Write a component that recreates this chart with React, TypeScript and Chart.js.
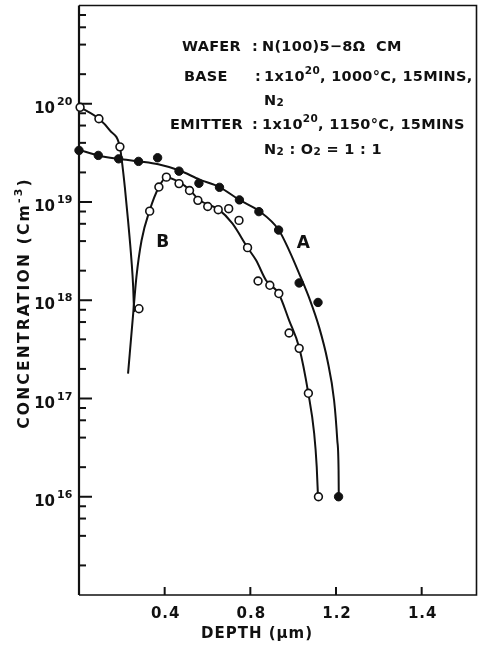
import React, { useEffect, useRef } from "react";
import { Chart, registerables } from "chart.js";

Chart.register(...registerables);

// ---- Data ----
// Series A (closed circles)
const aDepth = [0.0, 0.09, 0.185, 0.278, 0.367, 0.467, 0.56, 0.656, 0.749, 0.84, 0.932, 1.028, 1.116, 1.212];
const aConc = [3.35e19, 2.98e19, 2.75e19, 2.59e19, 2.82e19, 2.06e19, 1.55e19, 1.41e19, 1.05e19, 7.98e18, 5.18e18, 1.5e18, 9.5e17, 1.0e16];

// Series B (open circles: emitter part then base part)
const bDepth = [0.005, 0.093, 0.191, 0.28, 0.33, 0.373, 0.408, 0.467, 0.516, 0.555, 0.601, 0.65, 0.699, 0.747, 0.787, 0.836, 0.891, 0.933, 0.981, 1.028, 1.071, 1.118];
const bConc = [9.2e19, 7.04e19, 3.64e19, 8.2e17, 8.07e18, 1.42e19, 1.79e19, 1.54e19, 1.31e19, 1.04e19, 9.0e18, 8.35e18, 8.55e18, 6.5e18, 3.43e18, 1.57e18, 1.42e18, 1.17e18, 4.64e17, 3.24e17, 1.13e17, 1.0e16];

// Hand-drawn fitted curves
const curveADepth = [0, 0.09, 0.185, 0.279, 0.37, 0.47, 0.563, 0.656, 0.749, 0.842, 0.932, 0.981, 1.028, 1.079, 1.121, 1.16, 1.191, 1.206, 1.212, 1.213];
const curveAConc = [3.39e19, 2.98e19, 2.75e19, 2.59e19, 2.42e19, 2.09e19, 1.69e19, 1.42e19, 1.05e19, 8.07e18, 5.22e18, 3.22e18, 1.87e18, 9.98e17, 5.33e17, 2.45e17, 9.6e16, 3.76e16, 1.86e16, 9.8e15];

const curveEDepth = [0, 0.093, 0.144, 0.191, 0.199, 0.214, 0.229, 0.245, 0.253, 0.257];
const curveEConc = [9.33e19, 7.03e19, 5.35e19, 3.64e19, 2.75e19, 1.42e19, 6.5e18, 2.55e18, 1.36e18, 7.59e17];

const curveBDepth = [0.229, 0.253, 0.268, 0.292, 0.33, 0.373, 0.408, 0.47, 0.516, 0.563, 0.653, 0.716, 0.787, 0.827, 0.873, 0.932, 0.981, 1.028, 1.071, 1.098, 1.11, 1.116];
const curveBConc = [1.79e17, 7.31e17, 1.72e18, 4.06e18, 8.22e18, 1.42e19, 1.79e19, 1.58e19, 1.33e19, 1.04e19, 8.36e18, 6.05e18, 3.43e18, 2.55e18, 1.6e18, 1.17e18, 6.24e17, 3.3e17, 1.12e17, 4.43e16, 2.01e16, 9.9e15];

// Axes
const xTickValues = [0.4, 0.8, 1.2, 1.6];
const xTickLabels = ["0.4", "0.8", "1.2", "1.4"];
const yMajorExps = [16, 17, 18, 19, 20];
const yMinorMultipliers = [2, 4, 6, 8];
const yDecadeRange = [15, 21];

// Curve labels (data coordinates)
const curveLabels = ["A", "B"];
const curveLabelDepth = [1.047, 0.391];
const curveLabelConc = [3.8e18, 3.9e18];

const FONT = '"DejaVu Sans", sans-serif';
const W = "bold";
const INK = "#111";

type Part = { t: string; s?: number; dy?: number };

function richWidth(ctx: CanvasRenderingContext2D, parts: Part[], base: number, ls: number) {
  let w = 0;
  for (const p of parts) {
    ctx.font = `${W} ${p.s ?? base}px ${FONT}`;
    (ctx as any).letterSpacing = `${ls}px`;
    w += ctx.measureText(p.t).width;
  }
  return w;
}

function drawRich(ctx: CanvasRenderingContext2D, x: number, y: number, parts: Part[], base = 14.5, ls = 0.3) {
  let cx = x;
  ctx.textAlign = "left";
  ctx.textBaseline = "alphabetic";
  for (const p of parts) {
    ctx.font = `${W} ${p.s ?? base}px ${FONT}`;
    (ctx as any).letterSpacing = `${ls}px`;
    ctx.fillText(p.t, cx, y + (p.dy ?? 0));
    cx += ctx.measureText(p.t).width;
  }
  return cx;
}

const sup = (t: string): Part => ({ t, s: 10.5, dy: -7 });
const sub = (t: string): Part => ({ t, s: 10.5, dy: 1 });

const noteLines: { label: string; lx: number; y: number; colonX: number; vx: number; parts: Part[] }[] = [
  { label: "WAFER", lx: 182, y: 51, colonX: 252, vx: 262, parts: [{ t: "N(100)5−8Ω  CM" }] },
  { label: "BASE", lx: 184, y: 81, colonX: 255, vx: 264, parts: [{ t: "1x10" }, sup("20"), { t: ", 1000°C, 15MINS," }] },
  { label: "", lx: 0, y: 105, colonX: 0, vx: 264, parts: [{ t: "N" }, sub("2")] },
  { label: "EMITTER", lx: 170, y: 129, colonX: 252, vx: 262, parts: [{ t: "1x10" }, sup("20"), { t: ", 1150°C, 15MINS" }] },
  { label: "", lx: 0, y: 154, colonX: 0, vx: 264, parts: [{ t: "N" }, sub("2"), { t: " : O" }, sub("2"), { t: " = 1 : 1" }] },
];

const decorPlugin = {
  id: "decor",
  beforeDatasetsDraw(chart: any) {
    const { ctx, chartArea: a, scales } = chart;
    const x = scales.x;
    const y = scales.y;
    ctx.save();
    ctx.strokeStyle = INK;
    ctx.lineCap = "butt";
    // frame
    ctx.lineWidth = 1.6;
    ctx.beginPath();
    ctx.moveTo(a.left, a.top);
    ctx.lineTo(a.right, a.top);
    ctx.lineTo(a.right, a.bottom);
    ctx.lineTo(a.left, a.bottom);
    ctx.stroke();
    ctx.lineWidth = 2.2;
    ctx.beginPath();
    ctx.moveTo(a.left, a.top);
    ctx.lineTo(a.left, a.bottom);
    ctx.stroke();
    // y ticks (inside)
    ctx.lineWidth = 2;
    for (let e = yDecadeRange[0]; e < yDecadeRange[1]; e++) {
      for (const m of yMinorMultipliers) {
        const py = y.getPixelForValue(m * Math.pow(10, e));
        ctx.beginPath();
        ctx.moveTo(a.left, py);
        ctx.lineTo(a.left + 7, py);
        ctx.stroke();
      }
    }
    for (const e of yMajorExps) {
      const py = y.getPixelForValue(Math.pow(10, e));
      ctx.beginPath();
      ctx.moveTo(a.left, py);
      ctx.lineTo(a.left + 13, py);
      ctx.stroke();
    }
    // x ticks (inside)
    for (const v of xTickValues) {
      const px = x.getPixelForValue(v);
      ctx.beginPath();
      ctx.moveTo(px, a.bottom);
      ctx.lineTo(px, a.bottom - 8);
      ctx.stroke();
    }
    ctx.restore();
  },
  afterDraw(chart: any) {
    const { ctx, chartArea: a, scales } = chart;
    const x = scales.x;
    const y = scales.y;
    ctx.save();
    ctx.fillStyle = INK;

    // y tick labels 10^n
    for (const e of yMajorExps) {
      const py = y.getPixelForValue(Math.pow(10, e));
      ctx.font = `${W} 15px ${FONT}`;
      (ctx as any).letterSpacing = "0px";
      ctx.textAlign = "right";
      ctx.textBaseline = "alphabetic";
      ctx.fillText("10", 55, py + 9);
      ctx.font = `${W} 11px ${FONT}`;
      ctx.textAlign = "left";
      ctx.fillText(String(e), 57, py + 1);
    }

    // x tick labels
    xTickValues.forEach((v, i) => {
      const px = x.getPixelForValue(v);
      ctx.font = `${W} 15px ${FONT}`;
      (ctx as any).letterSpacing = "1px";
      ctx.textAlign = "center";
      ctx.textBaseline = "alphabetic";
      ctx.fillText(xTickLabels[i], px + 1, a.bottom + 23);
    });

    // x title
    {
      const parts: Part[] = [{ t: "DEPTH (" }, { t: "μ" }, { t: "m)" }];
      const w = richWidth(ctx, parts, 15, 1);
      drawRich(ctx, 257 - w / 2, a.bottom + 43, parts, 15, 1);
    }

    // y title
    {
      const parts: Part[] = [{ t: "CONCENTRATION (Cm" }, { t: "-3", s: 11, dy: -7 }, { t: ")" }];
      const w = richWidth(ctx, parts, 15.5, 2.2);
      ctx.save();
      ctx.translate(23, 303);
      ctx.rotate(-Math.PI / 2);
      drawRich(ctx, -w / 2, 6, parts, 15.5, 2.2);
      ctx.restore();
    }

    // annotation block
    for (const ln of noteLines) {
      if (ln.label) {
        drawRich(ctx, ln.lx, ln.y, [{ t: ln.label }], 14.5, 0.3);
        drawRich(ctx, ln.colonX, ln.y, [{ t: ":" }], 14.5, 0);
      }
      drawRich(ctx, ln.vx, ln.y, ln.parts, 14.5, 0.3);
    }

    // curve labels
    curveLabels.forEach((t, i) => {
      const px = x.getPixelForValue(curveLabelDepth[i]);
      const py = y.getPixelForValue(curveLabelConc[i]);
      ctx.font = `bold 17px ${FONT}`;
      (ctx as any).letterSpacing = "0px";
      ctx.textAlign = "center";
      ctx.textBaseline = "middle";
      ctx.fillText(t, px, py);
    });
    ctx.restore();
  },
};

const toXY = (xs: number[], ys: number[]) => xs.map((v, i) => ({ x: v, y: ys[i] }));

export default function App() {
  const ref = useRef<HTMLCanvasElement>(null);
  useEffect(() => {
    const canvas = ref.current;
    if (!canvas) return;
    const curveStyle = {
      showLine: true,
      pointRadius: 0,
      pointHoverRadius: 0,
      borderColor: INK,
      borderWidth: 2,
      cubicInterpolationMode: "monotone" as const,
      fill: false,
      order: 1,
      clip: false as any,
    };
    const chart = new Chart(canvas, {
      type: "scatter",
      data: {
        datasets: [
          {
            label: "A",
            data: toXY(aDepth, aConc),
            showLine: false,
            pointRadius: 4.2,
            pointHoverRadius: 4.2,
            pointBackgroundColor: INK,
            pointBorderColor: INK,
            pointBorderWidth: 1,
            order: 0,
            clip: false as any,
          },
          {
            label: "B",
            data: toXY(bDepth, bConc),
            showLine: false,
            pointRadius: 3.9,
            pointHoverRadius: 3.9,
            pointBackgroundColor: "#fff",
            pointBorderColor: INK,
            pointBorderWidth: 1.6,
            order: 0,
            clip: false as any,
          },
          { label: "curve A", data: toXY(curveADepth, curveAConc), ...curveStyle },
          { label: "curve emitter", data: toXY(curveEDepth, curveEConc), ...curveStyle },
          { label: "curve B", data: toXY(curveBDepth, curveBConc), ...curveStyle },
        ],
      },
      options: {
        responsive: false,
        animation: false,
        events: [],
        layout: { padding: { left: 79, top: 5, right: 4, bottom: 58 } },
        plugins: { legend: { display: false }, tooltip: { enabled: false } },
        scales: {
          x: { type: "linear", min: 0, max: 1.856, display: false },
          y: { type: "logarithmic", min: Math.pow(10, yDecadeRange[0]), max: Math.pow(10, yDecadeRange[1]), display: false },
        },
      },
      plugins: [decorPlugin],
    });
    return () => chart.destroy();
  }, []);
  return (
    <div style={{ position: "absolute", left: 0, top: 0, width: 482, height: 653, background: "#fff" }}>
      <canvas ref={ref} width={482} height={653} style={{ display: "block" }} />
    </div>
  );
}
